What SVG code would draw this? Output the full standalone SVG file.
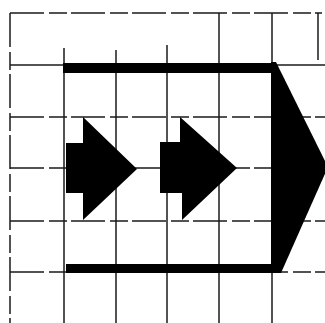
<svg xmlns="http://www.w3.org/2000/svg" width="325" height="323" viewBox="0 0 325 323">
<style>
.grid{stroke:#1a1a1a;stroke-width:1.5;fill:none}
.gridb{stroke:#1a1a1a;stroke-width:1.5;fill:none;stroke-dasharray:34 5 18 4}
.ink{fill:#000;stroke:none}
</style>
<rect width="325" height="323" fill="#fff"/>
<g id="grid">
<line class="gridb" x1="10" y1="13" x2="322" y2="13"/>
<line class="grid" x1="10" y1="65" x2="325" y2="65"/>
<line class="gridb" x1="10" y1="117" x2="325" y2="117"/>
<line class="gridb" x1="10" y1="168" x2="325" y2="168"/>
<line class="gridb" x1="10" y1="221" x2="325" y2="221"/>
<line class="gridb" x1="10" y1="272" x2="325" y2="272"/>
<line class="gridb" x1="10" y1="13" x2="10" y2="323"/>
<line class="grid" x1="64" y1="48" x2="64" y2="323"/>
<line class="grid" x1="116" y1="50" x2="116" y2="323"/>
<line class="grid" x1="167" y1="45" x2="167" y2="323"/>
<line class="grid" x1="219" y1="13" x2="219" y2="323"/>
<line class="grid" x1="272" y1="13" x2="272" y2="323"/>
<line class="grid" x1="318" y1="13" x2="318" y2="60"/>
</g>
<g id="frame-arrow">
<rect class="ink" x="63" y="63" width="210" height="10"/>
<rect class="ink" x="66" y="264" width="213" height="9"/>
<polygon class="ink" points="271,62 276,62 328,167 281,273 271,273"/>
</g>
<g id="arrow-1">
<polygon class="ink" points="66,143 83,143 83,117 137,169 83,220 83,193 66,193"/>
</g>
<g id="arrow-2">
<polygon class="ink" points="160,142 180,142 180,117 237,168 182,220 182,193 160,193"/>
</g>
<g id="connectors"/>
</svg>
